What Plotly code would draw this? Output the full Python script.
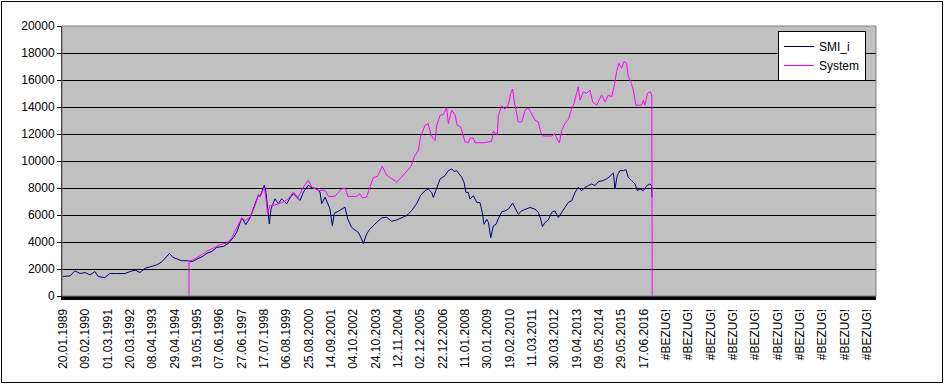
import pandas as pd
import plotly.graph_objects as go

# ---- data ----
# x as decimal years, y as index values
smi_year = [1989.04, 1989.38, 1989.62, 1989.86, 1990.09, 1990.33, 1990.56, 1990.72, 1991.03, 1991.26,
            1991.57, 1991.98, 1992.22, 1992.46, 1992.69, 1992.93, 1993.17, 1993.48, 1993.72, 1993.93,
            1994.08, 1994.24, 1994.43, 1994.66, 1994.98, 1995.14, 1995.37, 1995.61, 1995.84, 1996.08,
            1996.31, 1996.63, 1996.86, 1997.10, 1997.25, 1997.49, 1997.68, 1997.88, 1998.09, 1998.28,
            1998.35, 1998.55, 1998.62, 1998.71, 1998.79, 1998.87, 1999.06, 1999.22, 1999.37, 1999.61,
            1999.77, 1999.92, 2000.08, 2000.24, 2000.40, 2000.63, 2000.79, 2001.02, 2001.18, 2001.26,
            2001.42, 2001.58, 2001.65, 2001.76, 2001.86, 2002.05, 2002.23, 2002.36, 2002.49, 2002.67,
            2002.83, 2002.99, 2003.11, 2003.23, 2003.38, 2003.54, 2003.78, 2004.09, 2004.33, 2004.56,
            2004.80, 2005.04, 2005.27, 2005.51, 2005.74, 2005.93, 2006.14, 2006.29, 2006.45, 2006.53,
            2006.69, 2006.85, 2007.08, 2007.24, 2007.40, 2007.51, 2007.63, 2007.76, 2007.87, 2007.98,
            2008.07, 2008.18, 2008.26, 2008.42, 2008.58, 2008.73, 2008.84, 2008.92, 2009.05, 2009.13,
            2009.24, 2009.36, 2009.49, 2009.60, 2009.76, 2009.91, 2010.07, 2010.27, 2010.38, 2010.54,
            2010.70, 2010.90, 2011.09, 2011.33, 2011.49, 2011.60, 2011.68, 2011.80, 2011.96, 2012.11,
            2012.27, 2012.43, 2012.59, 2012.74, 2012.90, 2013.06, 2013.22, 2013.37, 2013.53, 2013.69,
            2013.85, 2014.00, 2014.16, 2014.32, 2014.52, 2014.71, 2014.90, 2015.03, 2015.10, 2015.21,
            2015.34, 2015.50, 2015.62, 2015.73, 2015.89, 2016.05, 2016.16, 2016.28, 2016.44, 2016.60,
            2016.75, 2016.83, 2016.85]
smi_value = [1450, 1490, 1864, 1665, 1740, 1565, 1814, 1441, 1367, 1665,
             1665, 1665, 1814, 1913, 1740, 2063, 2162, 2311, 2535, 2858,
             3156, 2858, 2734, 2609, 2609, 2535, 2734, 2907, 3156, 3305,
             3603, 3678, 3901, 4349, 4722, 5790, 5293, 5790, 6710, 7500,
             7377, 8198, 7825, 6331, 5335, 6455, 7202, 6829, 7202, 6829,
             7277, 7576, 7327, 7078, 7700, 8198, 8024, 7949, 7700, 6829,
             7327, 6704, 6455, 5210, 6132, 6281, 6455, 6580, 5708, 5086,
             4887, 4713, 4339, 3891, 4588, 4962, 5335, 5783, 5833, 5534,
             5634, 5783, 5958, 6331, 6829, 7451, 7800, 7924, 7676, 7302,
             8048, 8669, 8918, 9290, 9415, 9216, 9290, 9042, 8794, 8421,
             7676, 7676, 7178, 7427, 6930, 6930, 6184, 5315, 5687, 5439,
             4320, 5190, 5315, 5737, 6234, 6309, 6433, 6880, 6557, 6060,
             6309, 6433, 6557, 6433, 6184, 5687, 5141, 5439, 5638, 6184,
             6309, 5811, 6234, 6557, 6930, 7054, 7676, 8048, 7800, 8048,
             8173, 8297, 8173, 8471, 8545, 8669, 8918, 9117, 7924, 8918,
             9290, 9290, 9365, 8794, 8545, 8297, 7800, 7924, 7800, 8173,
             8297, 8173, 7300]

sys_year = [1995.00, 1995.00, 1995.19, 1995.42, 1995.65, 1995.89, 1996.16, 1996.44, 1996.75, 1996.99,
            1997.14, 1997.49, 1997.65, 1997.88, 1998.09, 1998.28, 1998.35, 1998.55, 1998.62, 1998.71,
            1998.82, 1998.98, 1999.22, 1999.45, 1999.69, 1999.92, 2000.16, 2000.40, 2000.63, 2000.79,
            2001.10, 2001.42, 2001.58, 2001.89, 2002.05, 2002.23, 2002.39, 2002.49, 2002.91, 2003.07,
            2003.18, 2003.38, 2003.54, 2003.70, 2003.90, 2004.12, 2004.33, 2004.56, 2004.80, 2005.04,
            2005.27, 2005.48, 2005.63, 2005.82, 2005.93, 2006.14, 2006.29, 2006.40, 2006.53, 2006.61,
            2006.69, 2006.85, 2007.00, 2007.16, 2007.24, 2007.40, 2007.55, 2007.66, 2007.82, 2007.92,
            2008.03, 2008.18, 2008.26, 2008.42, 2008.50, 2008.89, 2009.28, 2009.36, 2009.55, 2009.60,
            2009.76, 2009.91, 2010.07, 2010.18, 2010.27, 2010.34, 2010.43, 2010.54, 2010.70, 2010.86,
            2011.01, 2011.17, 2011.33, 2011.49, 2011.60, 2011.72, 2012.11, 2012.27, 2012.35, 2012.48,
            2012.59, 2012.74, 2012.90, 2013.06, 2013.17, 2013.26, 2013.37, 2013.45, 2013.61, 2013.77,
            2013.92, 2014.05, 2014.24, 2014.47, 2014.63, 2014.79, 2014.95, 2015.06, 2015.18, 2015.29,
            2015.42, 2015.53, 2015.65, 2015.73, 2015.85, 2015.97, 2016.09, 2016.36, 2016.44, 2016.52,
            2016.63, 2016.76, 2016.84, 2016.86]
sys_value = [0, 2609, 2660, 2907, 3106, 3355, 3554, 3802, 3901, 4225,
             4722, 5790, 5591, 5840, 6585, 7455, 7327, 8074, 7327, 6082,
             6704, 6704, 6829, 6953, 7202, 7700, 7327, 8074, 8572, 8074,
             7825, 7825, 7377, 7377, 7700, 7949, 7949, 7377, 7377, 7576,
             7277, 7327, 8074, 8771, 8871, 9618, 8946, 8696, 8447, 8821,
             9269, 9618, 10315, 10763, 11809, 12645, 12770, 12024, 11651, 11527,
             12645, 13391, 13440, 13938, 12770, 13763, 13440, 12645, 12521, 11900,
             11403, 11353, 11701, 11701, 11353, 11353, 11452, 12198, 11949, 13391,
             14087, 13838, 14186, 15006, 15329, 14509, 13888, 12894, 12894, 13763,
             13938, 13515, 13018, 12894, 12099, 11850, 11850, 12024, 11701, 11353,
             12273, 12770, 13093, 13888, 14260, 14832, 15503, 14509, 15130, 15006,
             15254, 14385, 14137, 14882, 14385, 14882, 14757, 15503, 16621, 17243,
             16870, 17367, 17243, 16249, 15876, 15254, 14137, 14137, 14509, 14137,
             15006, 15130, 14882, 0]

tick_labels = ["20.01.1989", "09.02.1990", "01.03.1991", "20.03.1992", "08.04.1993", "29.04.1994",
               "19.05.1995", "07.06.1996", "27.06.1997", "17.07.1998", "06.08.1999", "25.08.2000",
               "14.09.2001", "04.10.2002", "24.10.2003", "12.11.2004", "02.12.2005", "22.12.2006",
               "11.01.2008", "30.01.2009", "19.02.2010", "11.03.2011", "30.03.2012", "19.04.2013",
               "09.05.2014", "29.05.2015", "17.06.2016"]
error_label = "#BEZUG!"
error_label_count = 10

series_names = ["SMI_i", "System"]
y_ticks = list(range(0, 20001, 2000))


def year_to_date(t):
    y = int(t)
    start = pd.Timestamp(year=y, month=1, day=1)
    days = (pd.Timestamp(year=y + 1, month=1, day=1) - start).days
    return start + pd.Timedelta(days=(t - y) * days)


smi_x = [year_to_date(t) for t in smi_year]
sys_x = [year_to_date(t) for t in sys_year]

label_dates = [pd.to_datetime(s, format="%d.%m.%Y") for s in tick_labels]
step = (label_dates[-1] - label_dates[0]) / (len(label_dates) - 1)
tick_pos = label_dates + [label_dates[-1] + step * (k + 1) for k in range(error_label_count)]
tick_txt = tick_labels + [error_label] * error_label_count
x_start = label_dates[0] - step * 0.045
x_end = label_dates[0] + step * 36.4

FONT = "Liberation Sans, Arial, sans-serif"

fig = go.Figure()
fig.add_trace(go.Scatter(x=smi_x, y=smi_value, mode="lines", name=series_names[0],
                         line=dict(color="#000080", width=1)))
fig.add_trace(go.Scatter(x=sys_x, y=sys_value, mode="lines", name=series_names[1],
                         line=dict(color="#FF00FF", width=1)))

L, R, T, B = 62, 69, 26, 88
W, H = 945, 384
pw, ph = W - L - R, H - T - B


def px_x(p):
    return (p - L) / pw


def px_y(p):
    return (H - B - p) / ph


fig.update_layout(
    width=W, height=H,
    margin=dict(l=L, r=R, t=T, b=B, pad=0, autoexpand=False),
    paper_bgcolor="white",
    plot_bgcolor="#C0C0C0",
    font=dict(family=FONT, size=12, color="black"),
    showlegend=True,
    legend=dict(x=px_x(866), y=px_y(31), xanchor="right", yanchor="top",
                bgcolor="white", bordercolor="black", borderwidth=1,
                font=dict(family=FONT, size=12, color="black"),
                itemwidth=30, tracegroupgap=0),
    xaxis=dict(type="date", range=[x_start, x_end], tickmode="array",
               tickvals=tick_pos, ticktext=tick_txt, tickangle=-90,
               showgrid=False, zeroline=False, showline=True, linecolor="black",
               linewidth=4, ticks="", automargin=False, ticklabelstandoff=4,
               tickfont=dict(family=FONT, size=12, color="black")),
    yaxis=dict(range=[0, 20000], tickmode="array", tickvals=y_ticks,
               ticktext=[str(v) for v in y_ticks], automargin=False,
               showgrid=True, gridcolor="black", gridwidth=1, zeroline=False,
               showline=True, linecolor="black", linewidth=1,
               ticks="outside", ticklen=4, tickcolor="black", tickwidth=1,
               tickfont=dict(family=FONT, size=12, color="black")),
    shapes=[
        dict(type="rect", xref="paper", yref="paper", x0=0, x1=1, y0=0, y1=1,
             line=dict(color="#808080", width=1), fillcolor="rgba(0,0,0,0)", layer="above"),
        dict(type="rect", xref="paper", yref="paper",
             x0=px_x(1.5), x1=px_x(942.5), y0=px_y(382.5), y1=px_y(1.5),
             line=dict(color="black", width=1), fillcolor="rgba(0,0,0,0)", layer="above"),
    ],
)

fig.write_html("out.html", config={"displayModeBar": False},
               post_script="document.body.style.margin='0';document.body.style.overflow='hidden';")
